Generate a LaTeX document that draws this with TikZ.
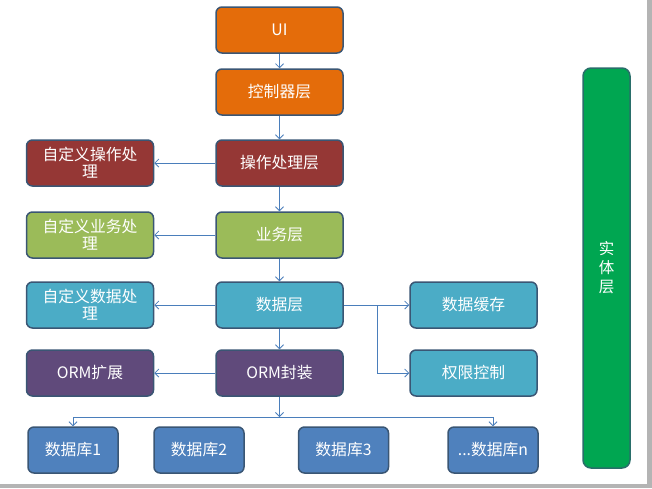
\documentclass[tikz,border=0pt]{standalone}
\usepackage{fontspec}
\setmainfont{Noto Sans CJK SC}
\usetikzlibrary{arrows.meta}
\definecolor{edge}{HTML}{3A5674}
\definecolor{linkblue}{HTML}{4A7EBB}
\definecolor{uiorange}{HTML}{E46C0A}
\definecolor{opred}{HTML}{953735}
\definecolor{bizgreen}{HTML}{9BBB59}
\definecolor{datateal}{HTML}{4BACC6}
\definecolor{ormpurple}{HTML}{604A7B}
\definecolor{dbblue}{HTML}{4F81BD}
\definecolor{entgreen}{HTML}{00A651}
\definecolor{rimgray}{HTML}{B4B4B4}
\begin{document}
\begin{tikzpicture}[x=1pt,y=-1pt,
  every node/.style={font=\fontsize{15.8}{17}\selectfont,text=white},
  box/.style={draw=edge,line width=1.5pt,rounded corners=6pt,minimum width=127pt,minimum height=46pt,inner sep=1pt,align=center},
  dbbox/.style={box,fill=dbblue,minimum width=90pt},
  link/.style={draw=linkblue,line width=0.8pt,-{Straight Barb[length=4pt,width=8pt]}}]
\useasboundingbox (0,0) rectangle (652,488);
\fill[rimgray] (647,0) rectangle (652,488);
\fill[rimgray] (0,484) rectangle (652,488);
% main column
\node[box,fill=uiorange] (ui) at (279.5,30) {UI};
\node[box,fill=uiorange] (ctrl) at (279.5,92) {控制器层};
\node[box,fill=opred] (op) at (279.5,163) {操作处理层};
\node[box,fill=bizgreen] (biz) at (279.5,235) {业务层};
\node[box,fill=datateal] (data) at (279.5,305) {数据层};
\node[box,fill=ormpurple] (orm) at (279.5,373) {ORM封装};
% custom column
\node[box,fill=opred] (opx) at (90,163) {自定义操作处\\理};
\node[box,fill=bizgreen] (bizx) at (90,235) {自定义业务处\\理};
\node[box,fill=datateal] (datax) at (90,305) {自定义数据处\\理};
\node[box,fill=ormpurple] (ormx) at (90,373) {ORM扩展};
% data side
\node[box,fill=datateal] (cache) at (473.5,305) {数据缓存};
\node[box,fill=datateal] (auth) at (473.5,373) {权限控制};
% databases
\node[dbbox] (db1) at (73,450) {数据库1};
\node[dbbox] (db2) at (199,450) {数据库2};
\node[dbbox] (db3) at (343.5,450) {数据库3};
\node[dbbox] (dbn) at (493,450) {...数据库n};
% entity
\node[box,fill=entgreen,draw=edge!70!entgreen,minimum width=47pt,minimum height=400pt,rounded corners=8pt,font=\fontsize{15.5}{19}\selectfont] (ent) at (606.5,268) {实\\体\\层};
% links
\draw[link] (ui) -- (ctrl);
\draw[link] (ctrl) -- (op);
\draw[link] (op) -- (biz);
\draw[link] (biz) -- (data);
\draw[link] (data) -- (orm);
\draw[link] (op) -- (opx);
\draw[link] (biz) -- (bizx);
\draw[link] (data) -- (datax);
\draw[link] (orm) -- (ormx);
\draw[link] (data) -- (cache);
\coordinate (split) at (377,305);
\draw[link] (split) |- (auth.west);
\coordinate (bus) at (279.5,417);
\draw[link] (orm) -- (bus);
\draw[link] (bus) -| (db1);
\draw[link] (bus) -| (dbn);
\end{tikzpicture}
\end{document}
